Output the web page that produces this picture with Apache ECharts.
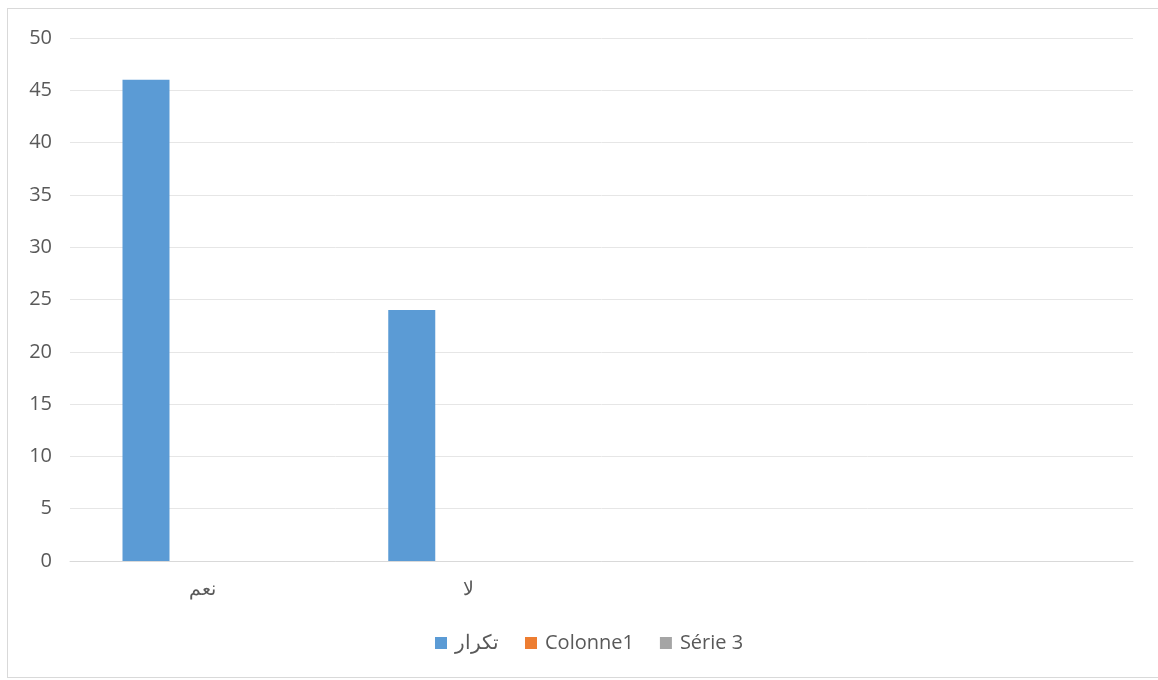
<!DOCTYPE html>
<html>
<head>
<meta charset="utf-8">
<script src="https://cdn.jsdelivr.net/npm/echarts@6/dist/echarts.min.js"></script>
<style>
html,body{margin:0;padding:0;background:#fff;}
#frame{position:absolute;left:7px;top:8px;width:1160px;height:670px;border:1px solid #d9d9d9;box-sizing:border-box;}
#chart{position:absolute;left:0;top:0;width:1158px;height:680px;}
</style>
</head>
<body>
<div id="frame"></div>
<div id="chart"></div>
<script>
var categories = ['نعم', 'لا', '', ''];
var seriesNames = ['تكرار', 'Colonne1', 'Série 3'];
var values1 = [46, 24, null, null];
var values2 = [null, null, null, null];
var values3 = [null, null, null, null];
var yTicks = [0, 5, 10, 15, 20, 25, 30, 35, 40, 45, 50];

var colors = ['#5B9BD5', '#ED7D31', '#A5A5A5'];
var font = '"Open Sans", "Noto Sans", sans-serif';
var chart = echarts.init(document.getElementById('chart'), null, {renderer: 'canvas'});
chart.setOption({
  animation: false,
  color: colors,
  grid: {left: 70, right: 25, top: 38, bottom: 119, containLabel: false},
  legend: {
    bottom: 22,
    left: 430,
    padding: 5,
    itemWidth: 12,
    itemHeight: 12,
    itemGap: 26,
    icon: 'rect',
    textStyle: {color: '#595959', fontSize: 20, fontFamily: font, padding: [0, 0, 0, 3]},
    data: seriesNames
  },
  xAxis: {
    type: 'category',
    data: categories,
    axisLine: {show: true, lineStyle: {color: '#d9d9d9', width: 1}},
    axisTick: {show: false},
    axisLabel: {color: '#595959', fontSize: 19, fontFamily: font, margin: 19}
  },
  yAxis: {
    type: 'value',
    min: yTicks[0],
    max: yTicks[yTicks.length - 1],
    interval: 5,
    axisLine: {show: false},
    axisTick: {show: false},
    axisLabel: {color: '#595959', fontSize: 20, fontFamily: font, margin: 18},
    splitLine: {lineStyle: {color: '#e6e6e6', width: 1}}
  },
  series: [
    {name: seriesNames[0], type: 'bar', data: values1, barWidth: 47, barGap: '21%'},
    {name: seriesNames[1], type: 'bar', data: values2, barWidth: 47, barGap: '21%'},
    {name: seriesNames[2], type: 'bar', data: values3, barWidth: 47, barGap: '21%'}
  ]
});
</script>
</body>
</html>
